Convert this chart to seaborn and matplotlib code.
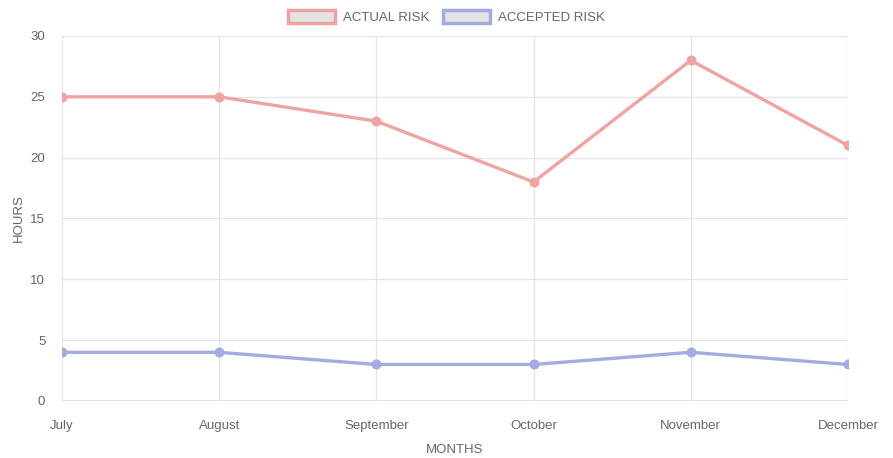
import pandas as pd
import matplotlib
matplotlib.use('Agg')
import matplotlib.pyplot as plt
import seaborn as sns
from matplotlib.patches import Patch

months = ['July', 'August', 'September', 'October', 'November', 'December']
actual_risk = [25, 25, 23, 18, 28, 21]
accepted_risk = [4, 4, 3, 3, 4, 3]
series_names = ['ACTUAL RISK', 'ACCEPTED RISK']
y_ticks = [0, 5, 10, 15, 20, 25, 30]

df = pd.DataFrame({
    'month': months * 2,
    'pos': list(range(len(months))) * 2,
    'hours': actual_risk + accepted_risk,
    'series': [series_names[0]] * len(months) + [series_names[1]] * len(months),
})

sns.set_style('white')
plt.rcParams['font.family'] = ['Liberation Sans', 'DejaVu Sans']
text_col = '#666666'
grid_col = '#e6e6e6'
palette = {'ACTUAL RISK': '#f0a3a3', 'ACCEPTED RISK': '#a4abe0'}

fig = plt.figure(figsize=(8.93, 4.58), dpi=100)
ax = fig.add_axes([0.0694, 0.1245, 0.8802, 0.7969])

sns.lineplot(data=df, x='pos', y='hours', hue='series', palette=palette,
             marker='o', markersize=6, markeredgewidth=1.2, linewidth=2.4,
             ax=ax, legend=False)
# chart.js style points: same colour edge and fill
for line in ax.lines:
    c = line.get_color()
    line.set_markeredgecolor(c)
    line.set_markerfacecolor(c)

ax.set_xlim(0, len(months) - 1)
ax.set_ylim(0, 30)
ax.set_xticks(range(len(months)))
ax.set_xticklabels(months)
ax.set_yticks(y_ticks)
ax.grid(True, color=grid_col, linewidth=1)
ax.set_axisbelow(True)
for s in ax.spines.values():
    s.set_visible(False)
ax.tick_params(axis='both', colors=grid_col, length=8, width=1, labelcolor=text_col,
               labelsize=9.5, pad=4)
ax.tick_params(axis='x', pad=6)
ax.axhline(0, color='#d9d9d9', linewidth=1.2, zorder=0)
ax.axvline(0, color='#d9d9d9', linewidth=1.2, zorder=0)

ax.set_xlabel('MONTHS', color=text_col, fontsize=9.5, labelpad=8.5)
ax.set_ylabel('HOURS', color=text_col, fontsize=9.5, labelpad=4)

handles = [Patch(facecolor='#e3e3e3', edgecolor=palette[n], linewidth=2.5, label=n)
           for n in series_names]
fig.legend(handles=handles, loc='upper center', bbox_to_anchor=(0.5, 1.005), ncol=2,
           frameon=False, fontsize=9.5, labelcolor=text_col, handlelength=3.6,
           handleheight=1.2, columnspacing=1.0, handletextpad=0.6)

fig.savefig('out.png', dpi=100)
